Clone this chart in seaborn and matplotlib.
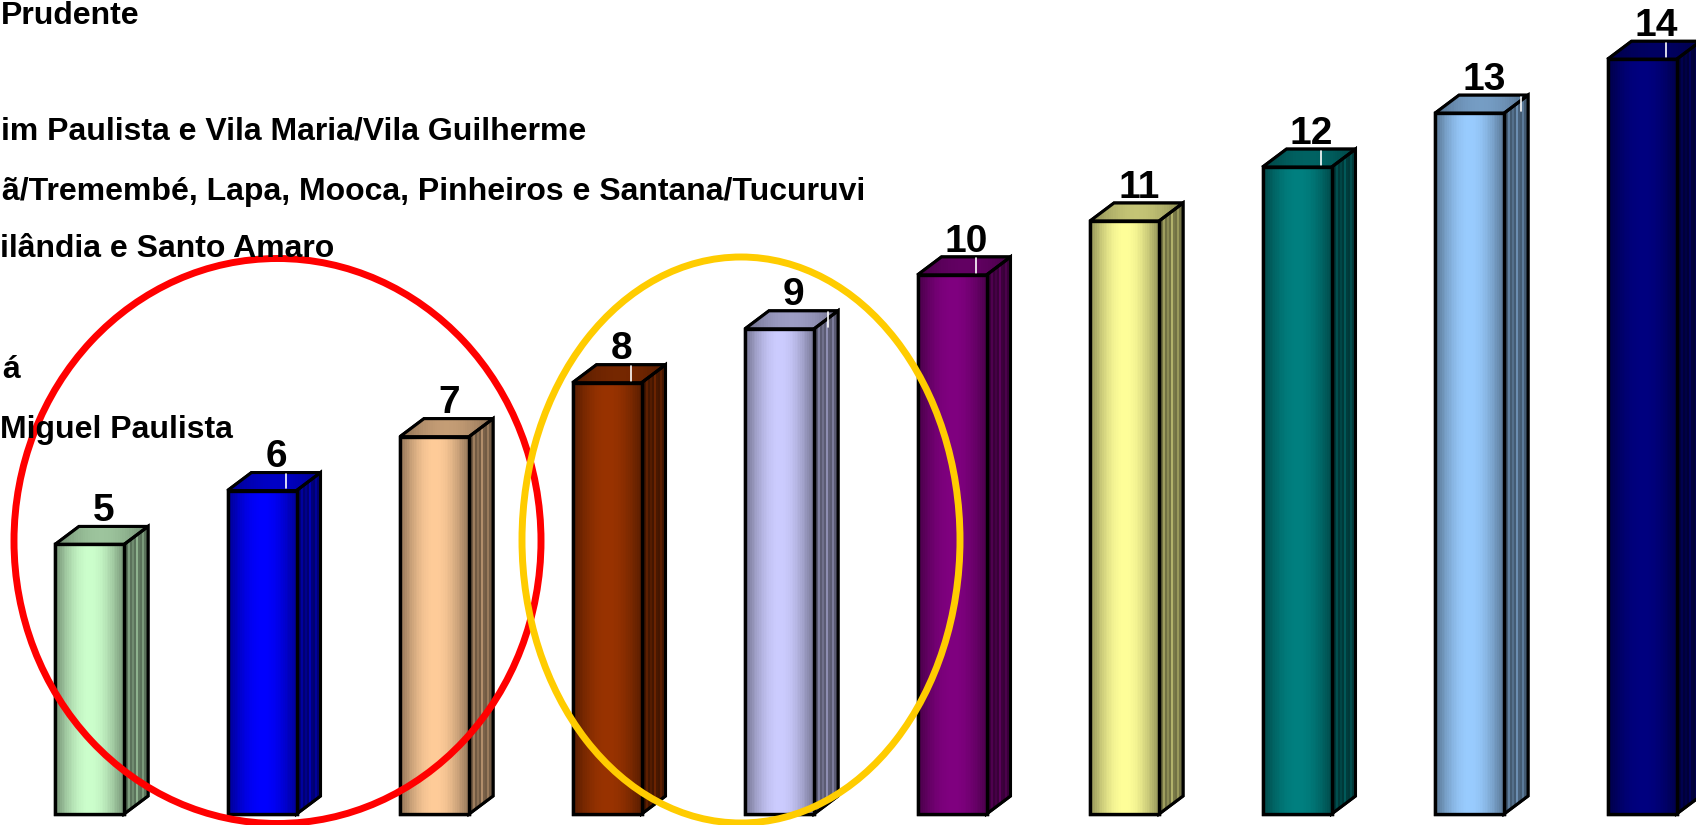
import numpy as np
import pandas as pd
import matplotlib
matplotlib.use("Agg")
import matplotlib.pyplot as plt
import seaborn as sns
from matplotlib.patches import Polygon, Ellipse
from matplotlib.colors import to_rgb

# ---------------- data ----------------
categories = ["5", "6", "7", "8", "9", "10", "11", "12", "13", "14"]
values = [5, 6, 7, 8, 9, 10, 11, 12, 13, 14]
bar_colors = ["#CCFFCC", "#0000FF", "#FFCC99", "#993300", "#CCCCFF",
              "#800080", "#FFFF99", "#008080", "#99CCFF", "#000080"]
# visible part of the (left-cropped) list of subprefeituras
text_lines = [
    "Prudente",
    "im Paulista e Vila Maria/Vila Guilherme",
    "ã/Tremembé, Lapa, Mooca, Pinheiros e Santana/Tucuruvi",
    "ilândia e Santo Amaro",
    "á",
    "Miguel Paulista",
]

# ---------------- style / layout ----------------
W, H = 1696, 825
text_pos = [(1, 24), (1, 140), (2, 200), (0, 257), (2, 378), (0, 438)]  # left x, baseline y (px)
DX, DY = 0.139, 0.334          # 3-D depth offset in data units
hl_pos = [None, 0.5, None, 0.5, 0.85, 0.5, None, 0.5, 0.9, 0.5]  # white highlight on top face

sns.set_theme(style="white")
plt.rcParams["font.family"] = ["Liberation Sans", "DejaVu Sans"]

fig = plt.figure(figsize=(W / 100, H / 100), dpi=100)
ax = fig.add_axes([0, 0, 1, 1])
df = pd.DataFrame({"cat": categories, "val": values})
sns.barplot(data=df, x="cat", y="val", hue="cat", palette=bar_colors,
            width=0.4, saturation=1, legend=False, ax=ax,
            edgecolor="black", linewidth=2.4, zorder=3)

t = np.linspace(0, 1, 40)
prof = 0.5 + 0.5 * np.sin(np.pi * np.clip(t * 0.95 + 0.02, 0, 1)) ** 0.8
stripe = np.array([0.45, 0.45, 0.62, 0.45, 0.55, 0.45, 0.7, 0.48, 0.45, 0.6, 0.45, 0.5])

for i, p in enumerate(list(ax.patches)):
    x0, w, h = p.get_x(), p.get_width(), p.get_height()
    c = np.array(to_rgb(bar_colors[i]))
    # front gradient
    img = (prof[:, None] * c[None, :])[None, :, :]
    im = ax.imshow(img, extent=(x0, x0 + w, 0, h), aspect="auto",
                   interpolation="nearest", zorder=3.1)
    im.set_clip_path(p)
    ax.add_patch(plt.Rectangle((x0, 0), w, h, fill=False, ec="black", lw=2.4, zorder=3.2))
    # side face
    side = Polygon([(x0 + w, 0), (x0 + w + DX, DY), (x0 + w + DX, h + DY), (x0 + w, h)],
                   closed=True, fc=c * 0.5, ec="black", lw=2.2, zorder=2)
    ax.add_patch(side)
    simg = (stripe[:, None] * c[None, :])[None, :, :]
    sim = ax.imshow(simg, extent=(x0 + w, x0 + w + DX, 0, h + DY), aspect="auto",
                    interpolation="nearest", zorder=2.1)
    sim.set_clip_path(side)
    ax.add_patch(Polygon([(x0 + w, 0), (x0 + w + DX, DY), (x0 + w + DX, h + DY), (x0 + w, h)],
                         closed=True, fill=False, ec="black", lw=2.2, zorder=2.2))
    # top face
    top = Polygon([(x0, h), (x0 + w, h), (x0 + w + DX, h + DY), (x0 + DX, h + DY)],
                  closed=True, fc=c * 0.65, ec="black", lw=2.2, zorder=2)
    ax.add_patch(top)
    tprof = 0.52 + 0.25 * np.sin(np.pi * t) ** 0.8
    timg = (tprof[:, None] * c[None, :])[None, :, :]
    tim = ax.imshow(timg, extent=(x0, x0 + w + DX, h, h + DY), aspect="auto",
                    interpolation="nearest", zorder=2.1)
    tim.set_clip_path(top)
    ax.add_patch(Polygon([(x0, h), (x0 + w, h), (x0 + w + DX, h + DY), (x0 + DX, h + DY)],
                         closed=True, fill=False, ec="black", lw=2.2, zorder=2.2))
    if hl_pos[i] is not None:
        xh = x0 + DX + w * hl_pos[i]
        ax.plot([xh, xh], [h + DY * 0.12, h + DY * 0.92], color="white", lw=1.2, zorder=2.3)
    # value label
    ax.text(x0 + w / 2 + DX * 0.6, h + DY + 0.1, str(values[i]), ha="center",
            va="baseline", fontsize=28, fontweight="bold", color="black", zorder=6)

ax.set_xlim(-0.519, 9.313)
ax.set_ylim(-0.204, 15.10)
ax.axis("off")

# ellipses (annotation)
fig.patches.append(Ellipse((277.5 / W, 1 - 541 / H), 527 / W, 565 / H, transform=fig.transFigure,
                           fill=False, ec="#FF0000", lw=5, zorder=5))
fig.patches.append(Ellipse((741 / W, 1 - 540 / H), 438 / W, 566 / H, transform=fig.transFigure,
                           fill=False, ec="#FFCC00", lw=5, zorder=5))

for s, (xl, yb) in zip(text_lines, text_pos):
    fig.text(xl / W, 1 - yb / H, s, ha="left", va="baseline", fontsize=23,
             fontweight="bold", color="black", zorder=7)

fig.savefig("out.png", dpi=100, facecolor="white")
